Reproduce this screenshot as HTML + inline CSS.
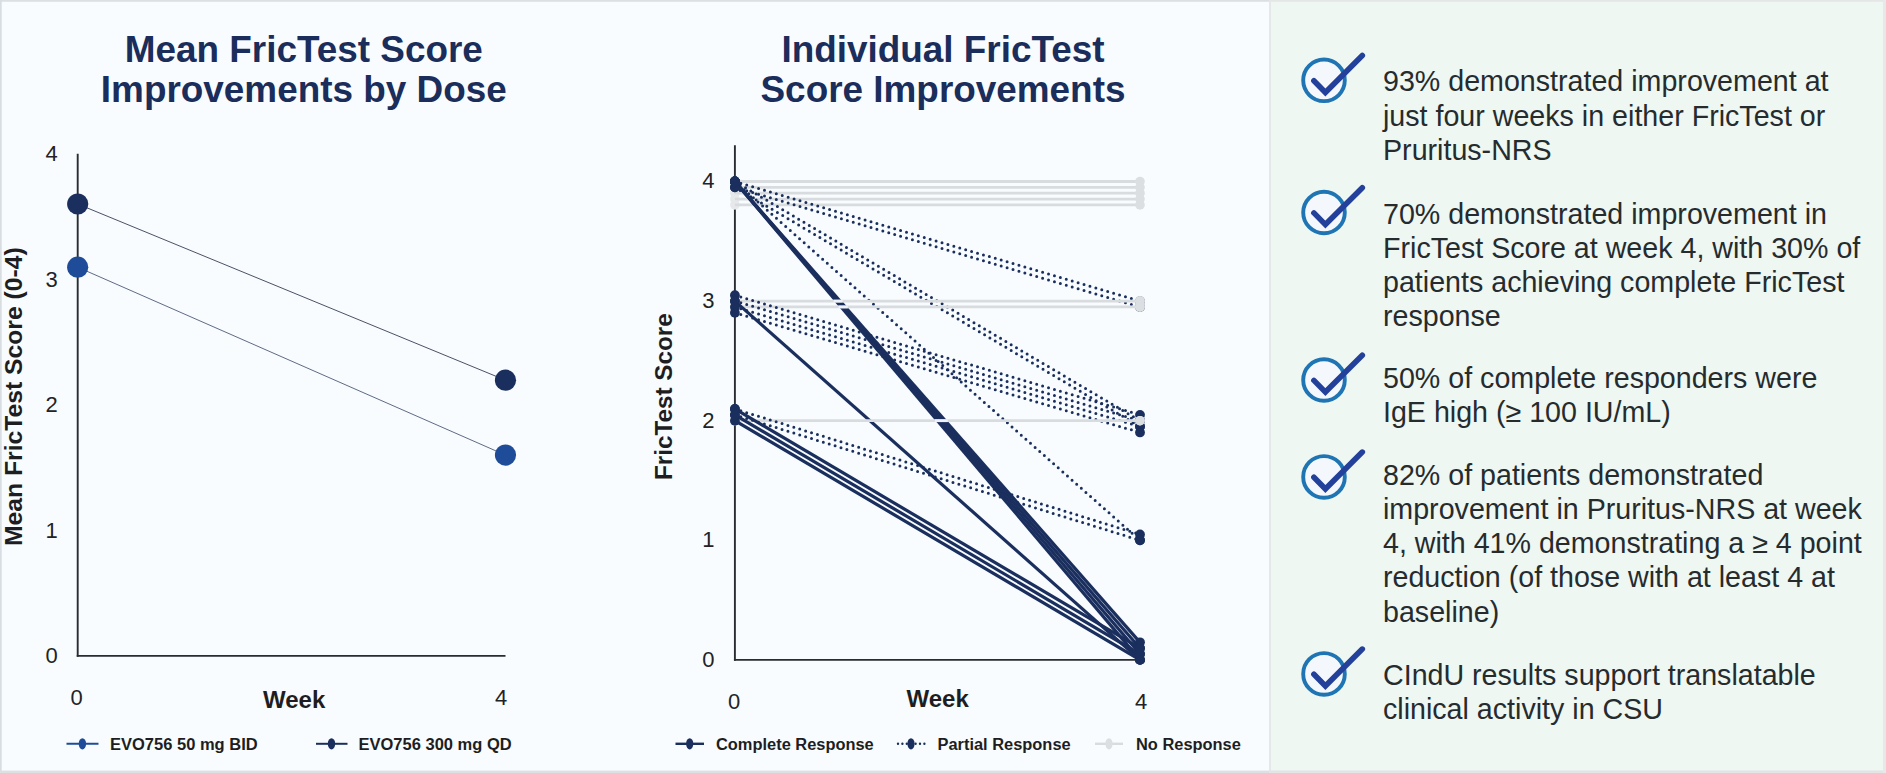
<!DOCTYPE html>
<html lang="en"><head><meta charset="utf-8"><title>FricTest Score Improvements</title>
<style>
html,body{margin:0;padding:0}
body{width:1886px;height:773px;overflow:hidden;position:relative;background:#f8fcfe;font-family:"Liberation Sans",Arial,sans-serif;color:#232326}
#right{position:absolute;left:1270px;top:0;width:616px;height:773px;background:#eef7f2}
#divider{position:absolute;left:1268.8px;top:0;width:2px;height:773px;background:#e4e8e8}
.bt{position:absolute;left:0;top:0;width:1270px;height:2px;background:#dce0e3}
.bt2{position:absolute;left:1270px;top:0;width:616px;height:2px;background:#e5e7e5}
.bl{position:absolute;left:0;top:0;width:2px;height:773px;background:#d8dde1}
.br{position:absolute;left:1883px;top:0;width:3px;height:773px;background:#e7e8e7}
.bb{position:absolute;left:0;top:770px;width:1886px;height:3px;background:#e3e6e6}
svg{position:absolute;left:0;top:0}
.title{position:absolute;width:600px;text-align:center;font-weight:bold;font-size:36.9px;line-height:39.5px;color:#1b2d5b;white-space:nowrap}
.tick{position:absolute;font-size:22px;line-height:22px;white-space:nowrap;color:#232326}
.tr{text-align:right;width:40px}
.tc{text-align:center;width:40px}
.axl{position:absolute;font-weight:bold;font-size:24px;line-height:24px;white-space:nowrap;color:#1e1e22}
.rot{transform-origin:0 0;transform:rotate(-90deg)}
.lg{position:absolute;font-weight:bold;font-size:16.5px;line-height:18px;white-space:nowrap;color:#1e1e22}
.bul{position:absolute;left:1383px;width:500px;font-size:28.64px;line-height:34.2px;color:#262b2e;white-space:nowrap}
</style></head><body>
<div id="right"></div><div id="divider"></div>
<svg width="1886" height="773" viewBox="0 0 1886 773">
<rect x="0" y="0" width="1269" height="1.8" fill="#dce0e3"/><rect x="1269" y="0" width="617" height="1.8" fill="#e4e7e5"/>
<rect x="0" y="0" width="1.7" height="773" fill="#d8dde1"/>
<rect x="0" y="770.6" width="1269" height="2.4" fill="#dddfe1"/><rect x="1269" y="770.4" width="617" height="2.6" fill="#e3e5e5"/>
<rect x="1883" y="0" width="3" height="773" fill="#e7e8e7"/>
<line x1="77.7" y1="153.8" x2="77.7" y2="656.85" stroke="#292c30" stroke-width="1.9"/>
<line x1="76.75" y1="655.9" x2="505.5" y2="655.9" stroke="#292c30" stroke-width="1.9"/>
<line x1="77.7" y1="204" x2="505.5" y2="380.2" stroke="#4a5166" stroke-width="1"/>
<line x1="77.7" y1="267.2" x2="505.5" y2="455.1" stroke="#56627e" stroke-width="0.95"/>
<circle cx="77.7" cy="204" r="10.6" fill="#1b2f5e"/><circle cx="505.5" cy="380.2" r="10.6" fill="#1b2f5e"/>
<circle cx="77.7" cy="267.2" r="10.6" fill="#1f4c98"/><circle cx="505.5" cy="455.1" r="10.6" fill="#1f4c98"/>
<line x1="66.5" y1="743.8" x2="98.5" y2="743.8" stroke="#1f4c98" stroke-width="2"/><ellipse cx="82.4" cy="743.8" rx="3.7" ry="5.6" fill="#1f4c98"/>
<line x1="316" y1="743.8" x2="347.5" y2="743.8" stroke="#1b2f5e" stroke-width="2"/><ellipse cx="331.5" cy="743.8" rx="3.7" ry="5.6" fill="#1b2f5e"/>
<line x1="734.9" y1="145.3" x2="734.9" y2="660.85" stroke="#292c30" stroke-width="1.9"/>
<line x1="733.95" y1="659.9" x2="1140" y2="659.9" stroke="#292c30" stroke-width="1.9"/>
<circle cx="734.9" cy="181.5" r="4.8" fill="#e6e8ea"/>
<line x1="734.9" y1="181.5" x2="1140.0" y2="181.5" stroke="#d9dcde" stroke-width="2.8"/>
<circle cx="1140.0" cy="181.5" r="4.8" fill="#dcdfe1"/>
<circle cx="734.9" cy="187.36" r="4.8" fill="#e6e8ea"/>
<line x1="734.9" y1="187.36" x2="1140.0" y2="187.36" stroke="#d9dcde" stroke-width="2.8"/>
<circle cx="1140.0" cy="187.36" r="4.8" fill="#dcdfe1"/>
<circle cx="734.9" cy="193.22" r="4.8" fill="#e6e8ea"/>
<line x1="734.9" y1="193.22" x2="1140.0" y2="193.22" stroke="#d9dcde" stroke-width="2.8"/>
<circle cx="1140.0" cy="193.22" r="4.8" fill="#dcdfe1"/>
<circle cx="734.9" cy="199.08" r="4.8" fill="#e6e8ea"/>
<line x1="734.9" y1="199.08" x2="1140.0" y2="199.08" stroke="#d9dcde" stroke-width="2.8"/>
<circle cx="1140.0" cy="199.08" r="4.8" fill="#dcdfe1"/>
<circle cx="734.9" cy="204.94" r="4.8" fill="#e6e8ea"/>
<line x1="734.9" y1="204.94" x2="1140.0" y2="204.94" stroke="#d9dcde" stroke-width="2.8"/>
<circle cx="1140.0" cy="204.94" r="4.8" fill="#dcdfe1"/>
<line x1="734.9" y1="181.5" x2="1140.0" y2="301.1" stroke="#1b2f5e" stroke-width="3" stroke-linecap="round" stroke-dasharray="0 6.17"/>
<line x1="734.9" y1="187.36" x2="1140.0" y2="306.96" stroke="#1b2f5e" stroke-width="3" stroke-linecap="round" stroke-dasharray="0 6.17"/>
<line x1="734.9" y1="181.5" x2="1140.0" y2="420.7" stroke="#1b2f5e" stroke-width="3" stroke-linecap="round" stroke-dasharray="0 6.17"/>
<line x1="734.9" y1="187.36" x2="1140.0" y2="426.56" stroke="#1b2f5e" stroke-width="3" stroke-linecap="round" stroke-dasharray="0 6.17"/>
<line x1="734.9" y1="181.5" x2="1140.0" y2="540.3" stroke="#1b2f5e" stroke-width="3" stroke-linecap="round" stroke-dasharray="0 6.17"/>
<line x1="734.9" y1="181.5" x2="1140.0" y2="642.32" stroke="#1b2f5e" stroke-width="3.2"/>
<line x1="734.9" y1="181.5" x2="1140.0" y2="648.18" stroke="#1b2f5e" stroke-width="3.2"/>
<line x1="734.9" y1="181.5" x2="1140.0" y2="654.04" stroke="#1b2f5e" stroke-width="3.2"/>
<line x1="734.9" y1="181.5" x2="1140.0" y2="659.9" stroke="#1b2f5e" stroke-width="3.2"/>
<circle cx="734.9" cy="181.5" r="4.9" fill="#1b2f5e"/><circle cx="1140.0" cy="301.1" r="4.9" fill="#1b2f5e"/>
<circle cx="734.9" cy="187.36" r="4.9" fill="#1b2f5e"/><circle cx="1140.0" cy="306.96" r="4.9" fill="#1b2f5e"/>
<circle cx="734.9" cy="181.5" r="4.9" fill="#1b2f5e"/><circle cx="1140.0" cy="420.7" r="4.9" fill="#1b2f5e"/>
<circle cx="734.9" cy="187.36" r="4.9" fill="#1b2f5e"/><circle cx="1140.0" cy="426.56" r="4.9" fill="#1b2f5e"/>
<circle cx="734.9" cy="181.5" r="4.9" fill="#1b2f5e"/><circle cx="1140.0" cy="540.3" r="4.9" fill="#1b2f5e"/>
<circle cx="734.9" cy="181.5" r="4.9" fill="#1b2f5e"/><circle cx="1140.0" cy="642.32" r="4.9" fill="#1b2f5e"/>
<circle cx="734.9" cy="181.5" r="4.9" fill="#1b2f5e"/><circle cx="1140.0" cy="648.18" r="4.9" fill="#1b2f5e"/>
<circle cx="734.9" cy="181.5" r="4.9" fill="#1b2f5e"/><circle cx="1140.0" cy="654.04" r="4.9" fill="#1b2f5e"/>
<circle cx="734.9" cy="181.5" r="4.9" fill="#1b2f5e"/><circle cx="1140.0" cy="659.9" r="4.9" fill="#1b2f5e"/>
<circle cx="734.9" cy="301.1" r="4.8" fill="#e6e8ea"/>
<line x1="734.9" y1="301.1" x2="1140.0" y2="301.1" stroke="#d9dcde" stroke-width="2.8"/>
<circle cx="1140.0" cy="301.1" r="4.8" fill="#dcdfe1"/>
<line x1="833.57" y1="301.1" x2="842.64" y2="301.1" stroke="#eef1f7" stroke-width="2.8"/>
<circle cx="734.9" cy="306.96" r="4.8" fill="#e6e8ea"/>
<line x1="734.9" y1="306.96" x2="1140.0" y2="306.96" stroke="#d9dcde" stroke-width="2.8"/>
<circle cx="1140.0" cy="306.96" r="4.8" fill="#dcdfe1"/>
<line x1="838.54" y1="306.96" x2="847.79" y2="306.96" stroke="#eef1f7" stroke-width="2.8"/>
<line x1="734.9" y1="301.1" x2="1140.0" y2="659.9" stroke="#1b2f5e" stroke-width="3.2"/>
<line x1="734.9" y1="295.24" x2="1140.0" y2="414.84" stroke="#1b2f5e" stroke-width="3" stroke-linecap="round" stroke-dasharray="0 6.17"/>
<line x1="734.9" y1="301.1" x2="1140.0" y2="420.7" stroke="#1b2f5e" stroke-width="3" stroke-linecap="round" stroke-dasharray="0 6.17"/>
<line x1="734.9" y1="306.96" x2="1140.0" y2="426.56" stroke="#1b2f5e" stroke-width="3" stroke-linecap="round" stroke-dasharray="0 6.17"/>
<line x1="734.9" y1="312.82" x2="1140.0" y2="432.42" stroke="#1b2f5e" stroke-width="3" stroke-linecap="round" stroke-dasharray="0 6.17"/>
<circle cx="734.9" cy="301.1" r="4.9" fill="#1b2f5e"/><circle cx="1140.0" cy="659.9" r="4.9" fill="#1b2f5e"/>
<circle cx="734.9" cy="295.24" r="4.9" fill="#1b2f5e"/><circle cx="1140.0" cy="414.84" r="4.9" fill="#1b2f5e"/>
<circle cx="734.9" cy="301.1" r="4.9" fill="#1b2f5e"/><circle cx="1140.0" cy="420.7" r="4.9" fill="#1b2f5e"/>
<circle cx="734.9" cy="306.96" r="4.9" fill="#1b2f5e"/><circle cx="1140.0" cy="426.56" r="4.9" fill="#1b2f5e"/>
<circle cx="734.9" cy="312.82" r="4.9" fill="#1b2f5e"/><circle cx="1140.0" cy="432.42" r="4.9" fill="#1b2f5e"/>
<circle cx="1140.0" cy="301.1" r="4.8" fill="#dcdfe1"/>
<circle cx="1140.0" cy="306.96" r="4.8" fill="#dcdfe1"/>
<circle cx="734.9" cy="420.7" r="4.8" fill="#e6e8ea"/>
<line x1="734.9" y1="420.7" x2="1140.0" y2="420.7" stroke="#d9dcde" stroke-width="2.8"/>
<circle cx="1140.0" cy="420.7" r="4.8" fill="#dcdfe1"/>
<line x1="934.85" y1="420.7" x2="947.78" y2="420.7" stroke="#eef1f7" stroke-width="2.8"/>
<line x1="734.9" y1="408.98" x2="1140.0" y2="648.18" stroke="#1b2f5e" stroke-width="3.2"/>
<line x1="734.9" y1="414.84" x2="1140.0" y2="654.04" stroke="#1b2f5e" stroke-width="3.2"/>
<line x1="734.9" y1="420.7" x2="1140.0" y2="659.9" stroke="#1b2f5e" stroke-width="3.2"/>
<line x1="734.9" y1="408.98" x2="1140.0" y2="534.44" stroke="#1b2f5e" stroke-width="3" stroke-linecap="round" stroke-dasharray="0 6.17"/>
<line x1="734.9" y1="414.84" x2="1140.0" y2="540.3" stroke="#1b2f5e" stroke-width="3" stroke-linecap="round" stroke-dasharray="0 6.17"/>
<circle cx="734.9" cy="408.98" r="4.9" fill="#1b2f5e"/><circle cx="1140.0" cy="648.18" r="4.9" fill="#1b2f5e"/>
<circle cx="734.9" cy="414.84" r="4.9" fill="#1b2f5e"/><circle cx="1140.0" cy="654.04" r="4.9" fill="#1b2f5e"/>
<circle cx="734.9" cy="420.7" r="4.9" fill="#1b2f5e"/><circle cx="1140.0" cy="659.9" r="4.9" fill="#1b2f5e"/>
<circle cx="734.9" cy="408.98" r="4.9" fill="#1b2f5e"/><circle cx="1140.0" cy="534.44" r="4.9" fill="#1b2f5e"/>
<circle cx="734.9" cy="414.84" r="4.9" fill="#1b2f5e"/><circle cx="1140.0" cy="540.3" r="4.9" fill="#1b2f5e"/>
<circle cx="1140.0" cy="420.7" r="4.8" fill="#dcdfe1"/>
<line x1="675.5" y1="743.8" x2="704" y2="743.8" stroke="#1b2f5e" stroke-width="2.4"/><ellipse cx="689.7" cy="743.8" rx="3.6" ry="5.6" fill="#1b2f5e"/>
<line x1="898" y1="743.8" x2="925" y2="743.8" stroke="#1b2f5e" stroke-width="2.4" stroke-linecap="round" stroke-dasharray="0 4.4"/><ellipse cx="911" cy="743.8" rx="3.6" ry="5.6" fill="#1b2f5e"/>
<line x1="1095" y1="743.8" x2="1123" y2="743.8" stroke="#d9dcde" stroke-width="2.4"/><ellipse cx="1109" cy="743.8" rx="3.6" ry="5.6" fill="#dcdfe1"/>
<circle cx="1324.0" cy="80.3" r="20.8" fill="#f4f8fc" stroke="#1f74b4" stroke-width="3.9"/><polyline points="1313.9,80.7 1325.4,92.4 1362.3,55.5" fill="none" stroke="#23419a" stroke-width="5.6" stroke-linecap="round" stroke-linejoin="miter"/>
<circle cx="1324.0" cy="212.5" r="20.8" fill="#f4f8fc" stroke="#1f74b4" stroke-width="3.9"/><polyline points="1313.9,212.9 1325.4,224.6 1362.3,187.7" fill="none" stroke="#23419a" stroke-width="5.6" stroke-linecap="round" stroke-linejoin="miter"/>
<circle cx="1324.0" cy="380.0" r="20.8" fill="#f4f8fc" stroke="#1f74b4" stroke-width="3.9"/><polyline points="1313.9,380.4 1325.4,392.1 1362.3,355.2" fill="none" stroke="#23419a" stroke-width="5.6" stroke-linecap="round" stroke-linejoin="miter"/>
<circle cx="1324.0" cy="476.9" r="20.8" fill="#f4f8fc" stroke="#1f74b4" stroke-width="3.9"/><polyline points="1313.9,477.3 1325.4,489 1362.3,452.1" fill="none" stroke="#23419a" stroke-width="5.6" stroke-linecap="round" stroke-linejoin="miter"/>
<circle cx="1324.0" cy="673.9" r="20.8" fill="#f4f8fc" stroke="#1f74b4" stroke-width="3.9"/><polyline points="1313.9,674.3 1325.4,686 1362.3,649.1" fill="none" stroke="#23419a" stroke-width="5.6" stroke-linecap="round" stroke-linejoin="miter"/>
</svg>
<div class="title" style="left:3.8px;top:30px">Mean FricTest Score<br>Improvements by Dose</div>
<div class="title" style="left:643px;top:30px">Individual FricTest<br>Score Improvements</div>
<div class="tick tr" style="left:17.8px;top:142.7px">4</div>
<div class="tick tr" style="left:17.8px;top:268.8px">3</div>
<div class="tick tr" style="left:17.8px;top:394.2px">2</div>
<div class="tick tr" style="left:17.8px;top:519.7px">1</div>
<div class="tick tr" style="left:17.8px;top:645.1px">0</div>
<div class="tick tc" style="left:56.5px;top:687.2px">0</div>
<div class="tick tc" style="left:481px;top:687.2px">4</div>
<div class="axl" style="left:263px;top:688px">Week</div>
<div class="axl rot" style="left:2px;top:545.5px;font-size:24.7px">Mean FricTest Score (0-4)</div>
<div class="lg" style="left:110px;top:735px">EVO756 50 mg BID</div>
<div class="lg" style="left:358.5px;top:735px">EVO756 300 mg QD</div>
<div class="tick tr" style="left:674.6px;top:170.3px">4</div>
<div class="tick tr" style="left:674.6px;top:289.9px">3</div>
<div class="tick tr" style="left:674.6px;top:409.5px">2</div>
<div class="tick tr" style="left:674.6px;top:529.1px">1</div>
<div class="tick tr" style="left:674.6px;top:648.7px">0</div>
<div class="tick tc" style="left:714px;top:690.5px">0</div>
<div class="tick tc" style="left:1121px;top:690.5px">4</div>
<div class="axl" style="left:906.5px;top:687.2px">Week</div>
<div class="axl rot" style="left:652.3px;top:479.5px;font-size:24.25px">FricTest Score</div>
<div class="lg" style="left:716px;top:735px;font-size:16.42px">Complete Response</div>
<div class="lg" style="left:937.5px;top:735px;font-size:16.42px">Partial Response</div>
<div class="lg" style="left:1136px;top:735px;font-size:16.42px">No Response</div>
<div class="bul" style="top:64.4px">93% demonstrated improvement at<br>just four weeks in either FricTest or<br>Pruritus-NRS</div>
<div class="bul" style="top:196.6px">70% demonstrated improvement in<br>FricTest Score at week 4, with 30% of<br>patients achieving complete FricTest<br>response</div>
<div class="bul" style="top:361.1px">50% of complete responders were<br>IgE high (≥ 100 IU/mL)</div>
<div class="bul" style="top:457.8px">82% of patients demonstrated<br>improvement in Pruritus-NRS at week<br>4, with 41% demonstrating a ≥ 4 point<br>reduction (of those with at least 4 at<br>baseline)</div>
<div class="bul" style="top:657.6px">CIndU results support translatable<br>clinical activity in CSU</div>
</body></html>
